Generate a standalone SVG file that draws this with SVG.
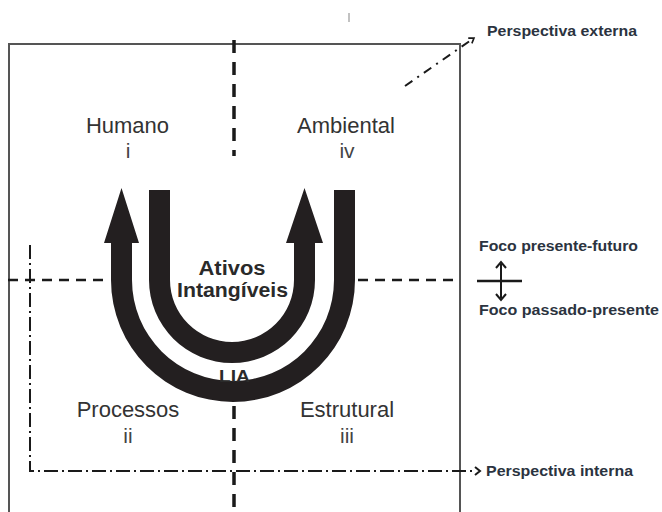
<svg xmlns="http://www.w3.org/2000/svg" width="662" height="512" viewBox="0 0 662 512">
  <style>
    .lbl { font-family: "Liberation Sans", Arial, sans-serif; font-size: 22px; fill: #333; text-anchor: middle; }
    .num { font-family: "Liberation Sans", Arial, sans-serif; font-size: 21px; fill: #444; text-anchor: middle; }
    .bold { font-family: "Liberation Sans", Arial, sans-serif; font-weight: bold; fill: #2a2a2a; text-anchor: middle; }
    .side { font-family: "Liberation Sans", Arial, sans-serif; font-weight: bold; font-size: 14px; fill: #2b3340; }
    .box { fill: none; stroke: #555; stroke-width: 2; }
    .dash { fill: none; stroke: #1a1a1a; stroke-width: 2.5; stroke-dasharray: 10 7; }
    .vdash { fill: none; stroke: #1a1a1a; stroke-width: 3.5; stroke-dasharray: 13 9; }
    .dashdot { fill: none; stroke: #1a1a1a; stroke-width: 2; stroke-dasharray: 14 4 2 4; }
    .band { fill: #231f20; }
  </style>
  <defs>
    <marker id="chev" viewBox="0 0 10 10" refX="8" refY="5" markerWidth="8" markerHeight="8" markerUnits="userSpaceOnUse" orient="auto">
      <path d="M2,1 L8,5 L2,9" fill="none" stroke="#1a1a1a" stroke-width="2"/>
    </marker>
  </defs>

  <!-- frame -->
  <g id="frame">
    <polyline class="box" points="9,512 9,44 460,44 460,512"/>
    <line x1="349" y1="13" x2="349" y2="22" stroke="#999" stroke-width="1.2"/>
  </g>

  <g id="connectors">
    <!-- quadrant dividers -->
    <line class="vdash" x1="234" y1="40" x2="234" y2="156"/>
    <line class="vdash" x1="234" y1="406" x2="234" y2="512"/>
    <line class="dash" x1="8" y1="280" x2="108" y2="280"/>
    <line class="dash" x1="358" y1="280" x2="460" y2="280"/>
    <!-- internal perspective dash-dot -->
    <polyline class="dashdot" points="30,245 30,471 472,471"/>
    <path d="M475,467 L480,471 L475,475" fill="none" stroke="#1a1a1a" stroke-width="2"/>
    <!-- external perspective diagonal -->
    <line x1="405" y1="86" x2="474" y2="38" stroke="#1a1a1a" stroke-width="2" stroke-dasharray="9 6 2 6" marker-end="url(#chev)"/>
    <!-- focus arrow -->
    <line x1="477" y1="281" x2="522" y2="281" stroke="#1a1a1a" stroke-width="2.5"/>
    <line x1="501" y1="264" x2="501" y2="298" stroke="#1a1a1a" stroke-width="2"/>
    <path d="M496,268 L501,262 L506,268" fill="none" stroke="#1a1a1a" stroke-width="2"/>
    <path d="M496,294 L501,300 L506,294" fill="none" stroke="#1a1a1a" stroke-width="2"/>
  </g>

  <!-- U arrows -->
  <g id="outer-u">
    <path class="band" d="M111,243 L111,280 A122,122 0 0 0 355,280 L355,190 L334,190 L334,280 A101,101 0 0 1 132,280 L132,243 L139,243 L121.5,188 L104,243 Z"/>
  </g>
  <g id="inner-u">
    <path class="band" d="M149,190 L149,280 A83,83 0 0 0 315,280 L315,243 L323,243 L304.5,188 L286,243 L294,243 L294,280 A62,62 0 0 1 170,280 L170,190 Z"/>
  </g>

  <g id="center-label">
    <text class="bold" x="232" y="275" font-size="20" textLength="67" lengthAdjust="spacingAndGlyphs">Ativos</text>
    <text class="bold" x="232.5" y="297" font-size="20" textLength="111" lengthAdjust="spacingAndGlyphs">Intangíveis</text>
  </g>
  <g id="lia">
    <text class="bold" x="234.5" y="382" font-size="16" textLength="31" lengthAdjust="spacingAndGlyphs">LIA</text>
  </g>

  <g id="humano">
    <text class="lbl" x="127.5" y="133">Humano</text>
    <text class="num" x="128" y="158">i</text>
  </g>
  <g id="ambiental">
    <text class="lbl" x="346" y="133">Ambiental</text>
    <text class="num" x="347" y="158">iv</text>
  </g>
  <g id="processos">
    <text class="lbl" x="128" y="417">Processos</text>
    <text class="num" x="128" y="443">ii</text>
  </g>
  <g id="estrutural">
    <text class="lbl" x="347" y="417">Estrutural</text>
    <text class="num" x="347" y="443">iii</text>
  </g>

  <g id="perspectiva-externa">
    <text class="side" x="487" y="36" textLength="150" lengthAdjust="spacingAndGlyphs">Perspectiva externa</text>
  </g>
  <g id="foco-presente-futuro">
    <text class="side" x="479" y="251" textLength="159" lengthAdjust="spacingAndGlyphs">Foco presente-futuro</text>
  </g>
  <g id="foco-passado-presente">
    <text class="side" x="479" y="315" textLength="180" lengthAdjust="spacingAndGlyphs">Foco passado-presente</text>
  </g>
  <g id="perspectiva-interna">
    <text class="side" x="486" y="476" textLength="147" lengthAdjust="spacingAndGlyphs">Perspectiva interna</text>
  </g>
</svg>
